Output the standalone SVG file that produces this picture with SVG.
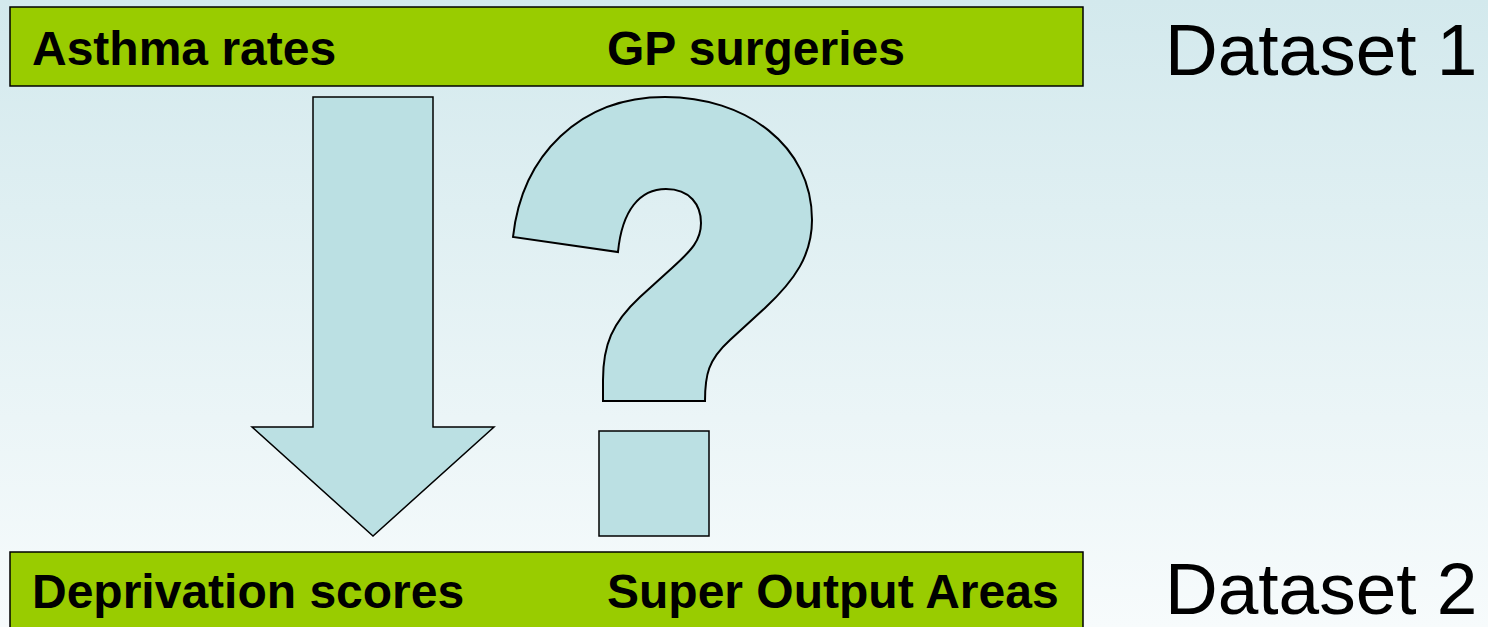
<svg xmlns="http://www.w3.org/2000/svg" width="1488" height="627" viewBox="0 0 1488 627">
<defs>
<linearGradient id="bg" x1="0" y1="0" x2="0" y2="1">
<stop offset="0" stop-color="#d3e9ed"/>
<stop offset="1" stop-color="#f7fbfc"/>
</linearGradient>
</defs>
<style>
.bar{fill:#99cc00;stroke:#000;stroke-width:1.5}
.shape{fill:#bbe0e3;stroke:#000;stroke-width:1.5;stroke-linejoin:miter}
.qm{stroke-width:2}
.lbl{font-family:"Liberation Sans",Arial,sans-serif;font-weight:bold;font-size:48px;fill:#000}
.ds{font-family:"Liberation Sans",Arial,sans-serif;font-size:73px;fill:#000}
</style>
<rect width="1488" height="627" fill="url(#bg)"/>
<g id="dataset1">
<rect class="bar" x="10" y="7" width="1073" height="79"/>
<text class="lbl" x="32" y="65">Asthma rates</text>
<text class="lbl" x="607" y="65">GP surgeries</text>
<text class="ds" x="1165" y="75">Dataset 1</text>
</g>
<g id="dataset2">
<rect class="bar" x="10" y="552" width="1073" height="80"/>
<text class="lbl" x="32" y="608">Deprivation scores</text>
<text class="lbl" x="607" y="608">Super Output Areas</text>
<text class="ds" x="1165" y="614">Dataset 2</text>
</g>
<g id="connectors">
<path class="shape" d="M313,97 L433,97 L433,427 L494,427 L373,536 L252,427 L313,427 Z"/>
</g>
<g id="question">
<path class="shape qm" d="M603,401 L705,401 C705,375 708,360 730,340 L765,308 C795,280 812,255 812,220 C812,145 745,97 665,97 C580,97 522,155 513,237 L618,252 C622,210 640,189 666,189 C690,189 701,205 701,223 C701,240 692,250 672,268 L640,297 C612,323 603,345 603,380 Z"/>
<rect class="shape" x="599" y="431" width="110" height="105"/>
</g>
</svg>
